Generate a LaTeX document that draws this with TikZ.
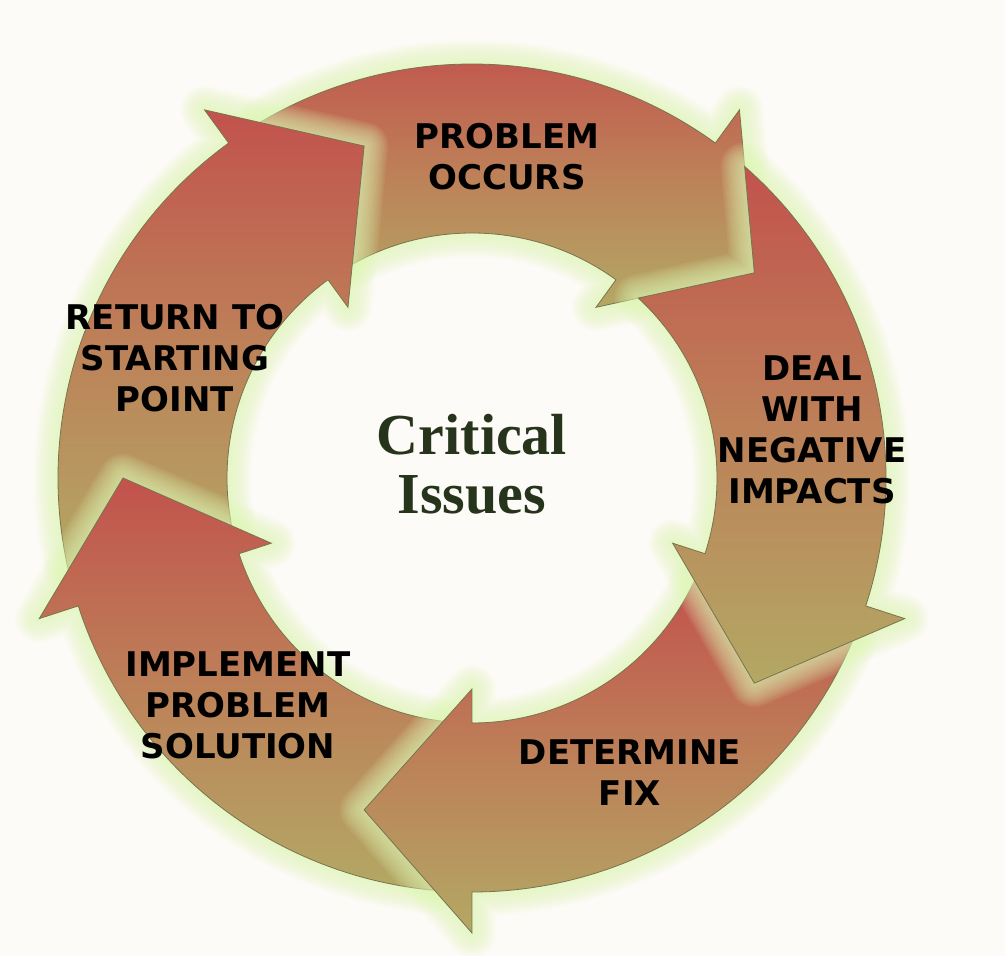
\documentclass[tikz,border=0pt]{standalone}
\usepackage{fontspec}
\setmainfont{DejaVu Sans}
\newfontfamily\labelfont{DejaVu Sans}
\newfontfamily\titlefont{Liberation Serif}
\definecolor{bg}{RGB}{253,251,247}
\definecolor{ared}{RGB}{194,82,77}
\definecolor{amid}{RGB}{189,128,88}
\definecolor{aolive}{RGB}{179,168,100}
\definecolor{glowc}{RGB}{224,246,180}
\definecolor{edgec}{RGB}{120,116,80}
\definecolor{titlec}{RGB}{38,52,28}
% #1 = angle of the head base (clockwise cycle)
\newcommand\arrowpath[1]{(#1+66.81:414) arc[start angle=#1+66.81, end angle=#1, radius=414]
  -- (#1:455) -- (#1-18:349) -- (#1:211) -- (#1:245)
  arc[start angle=#1, end angle=#1+65.25, radius=245]
  -- (#1+54:349) -- cycle}
\newcommand\cyclearrow[1]{%
  \foreach \w in {4,8,...,48}
    \path[draw=glowc, line width=\w pt, draw opacity=0.09, line join=round] \arrowpath{#1};
  \path[top color=ared, bottom color=aolive, middle color=amid, draw=edgec, line width=0.8pt, line join=miter] \arrowpath{#1};
}
\tikzset{
  steplabel/.style={font=\labelfont\bfseries\fontsize{34}{41}\selectfont, align=center, text=black, inner sep=0pt},
  titlelabel/.style={font=\titlefont\bfseries\fontsize{58}{58}\selectfont, text=titlec, inner sep=0pt, anchor=base}
}
\begin{document}
\begin{tikzpicture}[x=1pt,y=1pt]
  \path[fill=bg] (-472,-478) rectangle (533,478);
  \useasboundingbox (-472,-478) rectangle (533,478);
  % drawing order follows the overlaps of the glows
  \cyclearrow{54}   % problem occurs
  \cyclearrow{126}  % return to starting point
  \cyclearrow{-162} % implement problem solution
  \cyclearrow{-90}  % determine fix
  \cyclearrow{-18}  % deal with negative impacts
  \node[steplabel] (occurs) at (35,321) {PROBLEM\\OCCURS};
  \node[steplabel] (deal) at (340,48) {DEAL\\WITH\\NEGATIVE\\IMPACTS};
  \node[steplabel] (fix) at (158,-295) {DETERMINE\\FIX};
  \node[steplabel] (implement) at (-234,-227) {IMPLEMENT\\PROBLEM\\SOLUTION};
  \node[steplabel] (return) at (-297,120) {RETURN TO\\STARTING\\POINT};
  \node[titlelabel] (critical) at (0,23) {Critical};
  \node[titlelabel] (issues) at (0,-35) {Issues};
\end{tikzpicture}
\end{document}
